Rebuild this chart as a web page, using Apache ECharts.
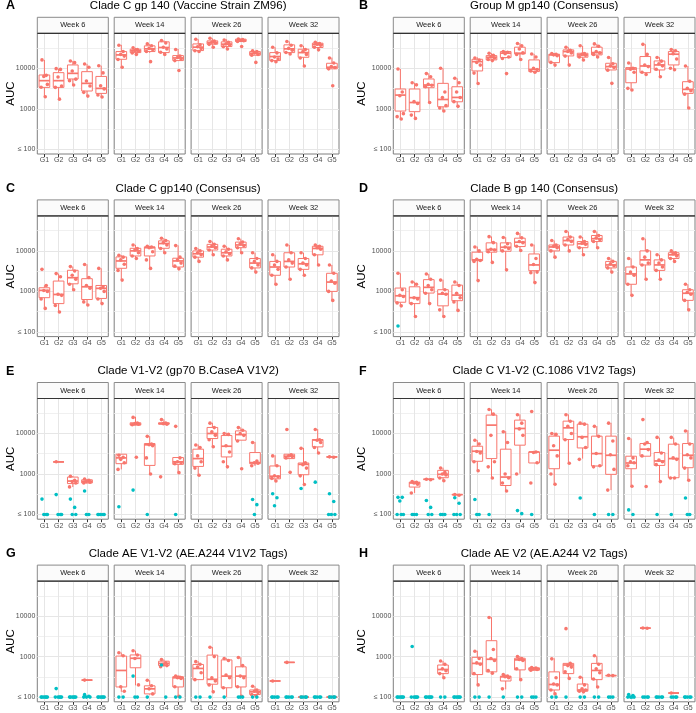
<!DOCTYPE html>
<html><head><meta charset="utf-8">
<script src="https://cdn.jsdelivr.net/npm/echarts@6/dist/echarts.min.js"></script>
<style>html,body{margin:0;padding:0;background:#fff}#c{width:696px;height:713px}</style>
</head><body><div id="c"></div><script>
const groups = ['G1','G2','G3','G4','G5'];
const weeks = ['Week 6','Week 14','Week 26','Week 32'];
const panelLetters = ['A','B','C','D','E','F','G','H'];
const panelTitles = ['Clade C gp 140 (Vaccine Strain ZM96)','Group M gp140 (Consensus)','Clade C gp140 (Consensus)','Clade B gp 140 (Consensus)','Clade V1-V2 (gp70 B.CaseA V1V2)','Clade C V1-V2 (C.1086 V1V2 Tags)','Clade AE V1-V2 (AE.A244 V1V2 Tags)','Clade AE V2 (AE.A244 V2 Tags)'];
const yTickValues = [100, 1000, 10000];
const yTickLabels = ['≤ 100', '1000', '10000'];

// box stats per week, per group: [lower whisker, Q1, median, Q3, upper whisker]; null = no box
const boxA = [
 [[1980,3380,4950,6840,16100],[1730,3380,4950,7800,9800],[3870,5450,7500,12100,15200],[2060,2750,4250,8260,12800],[1950,2400,3190,6300,11600]],
 [[10600,16700,21400,25900,37900],[22000,24400,27000,29600,32000],[24000,25900,30200,35800,40000],[22000,24400,32600,45000,48600],[15500,15500,18000,20600,30000]],
 [[25800,27400,33200,40000,52000],[33000,39400,43300,47600,55000],[30600,34400,39400,45000,52000],[45800,45800,48600,52400,53000],[21000,21000,23500,25900,27000]],
 [[14600,15500,19500,24400,33000],[22300,24400,30200,37900,46000],[11400,18700,24400,29600,35800],[28500,32600,38500,41700,44000],[9700,9700,10600,13300,18400]]
];
const redA = [
 [[16100,6700,6300,4000,3400,1980],[9800,9400,6100,3650,3380,1730],[15200,13800,8600,5400,4950,3870],[12800,10600,4850,3650,2550,2060],[11600,7700,3700,3100,2200,1950]],
 [[37000,26000,22000,20000,16500,10600],[32000,29000,27500,26000,24000,22000],[40000,36000,31000,29000,26000,14600],[48600,42000,33000,30000,25000,22000],[29000,20000,18500,17000,15500,8800]],
 [[52000,38000,34000,31000,27000,26000],[55000,47000,44000,42000,39000,33000],[50000,44000,40000,38000,34000,30000],[53000,51000,49000,48000,46000,34500],[27000,26000,24000,22000,21000,14000]],
 [[33000,24000,19000,17000,15500,14500],[46000,37000,31000,28000,24500,22500],[36000,29000,26000,22000,18000,11400],[44000,41000,39000,37000,33000,28500],[18000,13500,11000,10500,9700,3700]]
];
const boxB = [
 [[550,880,2180,3080,9600],[580,850,1430,3080,4400],[1430,3320,3870,5450,7500],[880,1120,1700,4250,10000],[1120,1490,1910,3500,5650]],
 [[4250,8600,14600,16700,18700],[15200,16100,18700,20600,23600],[17700,18400,23600,25900,25900],[16700,22700,23600,33200,41600],[7900,8300,9400,16100,22700]],
 [[12100,13800,21400,22300,23600],[12100,20200,25900,28500,33000],[16100,18800,21400,23500,35800],[18800,21400,24400,33200,40000],[9100,9100,11000,13300,18800]],
 [[2900,4400,9600,10400,13800],[7100,7800,11400,19500,39400],[6200,9100,12100,15200,18800],[9100,12100,22300,25900,29600],[1060,2400,3020,4670,11400]]
];
const redB = [
 [[9600,2600,2100,760,640,560],[4400,3900,1500,1350,700,580],[7400,6200,4000,3800,3500,1430],[10000,2600,1900,1200,1050,880],[5700,4400,2600,1900,1500,1150]],
 [[18000,16000,14000,12000,7600,4200],[23500,21000,19000,18000,16500,15500],[26000,25000,23000,19000,17500,7400],[41000,36000,30000,24000,22000,16500],[22500,19000,10000,9300,8600,8000]],
 [[23000,22000,21500,20500,14000,12000],[33000,28000,26000,24000,20000,12000],[36000,23000,22000,21000,19000,16000],[40000,35000,26000,24000,22000,19000],[18500,13000,11500,10500,9000,4250]],
 [[13500,10000,9500,8000,3200,2900],[39000,22000,12000,11000,8000,7000],[18500,15000,13000,11500,9500,6200],[29000,27000,23000,17000,10000,9200],[11400,4800,3200,2800,2300,1050]]
];
const boxC = [
 [[380,700,1060,1230,1400],[310,500,840,1800,2750],[1120,1540,2180,3320,4100],[460,630,1300,2060,4670],[510,670,1190,1400,3720]],
 [[1910,3720,5650,7100,7900],[6600,7500,10000,11600,14100],[3720,7500,12000,12600,13300],[9100,11600,15200,17700,20600],[3650,4000,5650,6600,13700]],
 [[5500,7000,8500,10000,11500],[8000,10500,12500,14500,17000],[6000,7500,9000,11000,13000],[9000,12000,14000,16500,20000],[3000,3800,5000,6500,9000]],
 [[1500,2500,4000,5500,8000],[2000,4000,5500,9000,14000],[2500,3500,4800,6500,9000],[4500,8000,11500,13000,14000],[600,1000,1700,2800,4500]]
];
const redC = [
 [[3500,1400,1050,1000,650,380],[2750,2300,850,800,450,310],[4100,3200,2500,2000,1500,1100],[4600,2200,1400,1200,550,460],[3700,1300,1200,1000,650,500]],
 [[7800,7000,6000,4700,3300,1900],[14000,11500,10500,9000,7500,6500],[13000,12500,12000,9500,6000,3700],[20500,18000,16000,14000,11500,9000],[13500,7000,6000,5000,4200,3600]],
 [[11500,10000,9000,8000,7000,5500],[17000,14500,13000,12000,10500,8000],[13000,11000,9500,8500,7500,6000],[20000,16500,15000,13500,12000,9000],[9000,6500,5500,4500,3800,3000]],
 [[8000,5500,4500,3500,2500,1500],[14000,9000,6000,5000,4000,2000],[9000,6500,5000,4500,3500,2500],[14000,13000,12000,11000,8000,4500],[4500,2800,1800,1600,1000,600]]
];
const boxD = [
 [[440,540,780,1210,2800],[240,500,700,1300,1730],[510,910,1260,1950,2700],[240,440,860,1100,1950],[340,590,810,1430,1730]],
 [[1850,5750,6000,9300,12800],[5250,9300,10800,15800,22700],[3440,9800,12300,15800,21800],[10200,12800,16400,20600,27400],[1670,3250,4500,8400,14300]],
 [[7000,10000,12500,14000,18000],[10000,14000,18000,22000,30000],[8000,12000,15000,17000,22000],[12000,17000,20000,24000,30000],[3000,3800,4500,5500,6500]],
 [[800,1500,2700,4000,6500],[2000,4500,6000,10000,20000],[2000,3300,4500,6000,8000],[5500,6500,8000,9000,10000],[350,600,900,1100,1500]]
];
const redD = [
 [[2800,1100,800,750,520,440],[1700,1500,700,650,500,240],[2700,2000,1400,1100,900,500],[1900,1100,900,850,350,240],[1700,1400,900,700,550,340]],
 [[12500,10000,6200,5800,5500,1850],[22500,16000,11000,10500,9500,5200],[21500,15000,12500,11500,10000,3400],[27000,21000,17000,16000,13000,10200],[14000,6500,4600,3000,2900,1650]],
 [[18000,14000,13000,12000,10000,7000],[30000,22000,19000,17000,14000,10000],[22000,17000,15500,14500,12000,8000],[30000,24000,21000,19000,17000,12000],[6500,5500,4800,4300,3800,3000]],
 [[6500,4000,3000,2500,1500,800],[20000,10000,7000,5000,4500,2000],[8000,6000,5000,4000,3300,2000],[10000,9000,8500,7500,6500,5500],[1500,1100,950,850,600,350]]
];
const cyanD = [
 [[140],[],[],[],[]], [[],[],[],[],[]], [[],[],[],[],[]], [[],[],[],[],[]]
];
const boxE = [
 [null,[1990,1990,1990,1990,1990],[476,580,670,840,890],[600,600,660,720,750],null],
 [[1300,1800,2500,3080,3080],[16100,16100,17000,18400,25900],[1020,1630,5250,5650,8600],[17000,17000,17500,18400,22300],[1080,1730,2000,2550,2550]],
 [[930,1540,2400,4100,5350],[4670,7500,10000,14100,18400],[1490,2640,4850,8900,10400],[6840,6840,9400,11600,14100],[1580,1800,1910,3380,6200]],
 [[670,760,880,1580,2900],[2400,2400,2750,3080,3080],[550,960,1730,1870,4400],[3320,4670,6900,7100,12800],[2640,2640,2640,2640,2640]]
];
const redE = [
 [[],[2000],[880,700,650,600,480],[750,700,650,630,600],[]],
 [[2900,2600,2300,1900,1300],[25000,18000,17500,17000,16500,2600],[8500,5500,5300,5000,2500,1000],[22000,18000,17500,17000,850],[15000,2500,2000,1900,1800,1080]],
 [[5200,4500,2800,2000,1400,930],[18000,14000,11000,9000,7000,4700],[10000,9500,5000,3500,2000,1500],[14000,12000,10000,9000,6500,1350],[6000,2100,1900,1850,1600]],
 [[2800,1600,900,850,780,670],[12500,3000,2800,2700,2500,1100],[4300,1900,1700,1400,900,550],[12500,7000,6800,6000,4500,3300],[2650,2600]]
];
const cyanE = [
 [[240,100,100,100],[310,100,100,100],[240,150,100,100],[380,100,100],[100,100,100,100,100]],
 [[155],[400],[100],[],[100]],
 [[],[],[],[],[235,175,100]],
 [[325,260,165],[],[440],[630],[325,210,100,100,100]]
];
const boxF = [
 [null,[340,476,600,630,650],[740,740,740,740,740],[680,810,980,1230,1430],[310,310,310,310,310]],
 [[1230,2060,3650,4850,6840],[810,2400,16100,28500,39400],[380,520,840,4100,11400],[1020,5150,13300,21400,29600],[1870,1870,3500,3500,3500]],
 [[580,1350,3870,8600,10400],[1870,7100,13800,20200,29600],[2400,4400,8300,17000,18400],[1550,1580,3190,8600,15200],[400,980,2900,8600,18400]],
 [[520,1350,1870,2750,7500],[2750,2750,4100,5650,5800],[680,1630,2100,3380,7900],[810,810,2400,5450,7900],[720,1430,2900,5650,12100]]
];
const redF = [
 [[],[650,620,600,560,340],[740,720],[1400,1100,1000,950,800,680],[310,300]],
 [[6800,5500,3600,3300,2000,1200],[39000,30000,9000,2000,1500,800],[11000,6000,1000,800,600,380],[29000,18000,13000,9000,1000],[35000,3500,3400,1900,600]],
 [[10000,9500,5000,2800,1000,560],[29000,20000,15000,10000,7000,1850],[18000,17000,8000,4500,2300],[15000,8500,3200,1600,1500],[18000,6500,3000,1300,400]],
 [[7500,2500,2000,1900,1600,500],[22000,6000,5500,4000,2800,490],[8000,3300,2200,2000,1700,650],[8000,5500,2500,2300,800,800],[11500,5500,3000,2500,1400,700]]
];
const cyanF = [
 [[265,265,215,100,100,100],[100,100,100],[222,150,100,100],[100,100,100],[260,190,100,100,100]],
 [[235,100,100],[100],[],[125,105],[100]],
 [[],[],[255],[100],[100,100]],
 [[130,100],[],[100],[100],[255,100,100]]
];
const boxG = [
 [null,null,null,[263,263,263,263,263],null],
 [[135,178,455,1030,1260],[195,530,910,1100,1400],[115,120,160,190,260],[560,600,680,770,850],[104,178,300,320,350]],
 [[270,270,510,640,770],[135,208,275,1090,1720],[100,170,330,830,910],[105,178,330,560,960],[110,116,135,150,185]],
 [[250,250,250,250,250],[720,720,720,720,720],[100,100,100,100,100],null,[100,100,100,100,100]]
];
const redG = [
 [[],[],[],[263],[]],
 [[1250,1050,180,140],[1400,1100,900,200],[260,190,160,120],[850,700,650,600,560],[330,310,300,290,180,105]],
 [[750,650,550,400,270],[1700,1000,300,250,200,135],[900,800,350,300,170],[950,600,330,300,180,105],[185,150,140,130,115,110]],
 [[250],[720],[100,100],[],[100,100]]
];
const cyanG = [
 [[100,100,100,100,100,100],[162,100,100,100,100,100],[100,100,100,100,100,100],[115,105,100,100,100],[100,100,100,100,100,100]],
 [[100,100],[330,100,100],[100],[620,100],[100,100]],
 [[100,100],[100],[100],[100,100,100],[100,100]],
 [[100,100,100,100,100],[100,100,100,100,100],[100,100,100,100],[100,100,100,100,100],[100,100,100,100]]
];
const boxH = [
 [null,null,null,[300,380,480,620,780],null],
 [[200,360,680,960,1400],[390,420,860,2470,9400],[155,250,316,330,360],[270,470,830,910,1030],[460,460,500,530,540]],
 [[120,150,205,420,910],[290,380,620,680,680],[135,140,150,210,316],[178,270,455,680,1050],[340,340,340,340,340]],
 [null,[5050,5050,5050,5050,5050],null,[126,126,126,126,126],null]
];
const redH = [
 [[],[],[],[780,650,500,450,380,300],[]],
 [[1350,900,700,650,380,200],[9200,1500,900,800,450,390],[360,330,320,300,160],[1000,900,850,800,500,270],[540,520,500,480,460]],
 [[880,300,210,200,150,120],[4900,680,600,550,420,290],[310,200,160,150,140,135],[1050,650,500,400,280,178],[345,340]],
 [[],[5100,5000],[],[126],[]]
];
const cyanH = [
 [[100,100,100,100,100,100],[1780,100,100,100,100,100],[100,100,100,100,100,100],[100,100],[100,100,100,100,100,100]],
 [[100,100],[100],[100],[100,100],[100,100,100]],
 [[100,100],[100],[100,100],[100,100],[100,100,100]],
 [[116,110,100,100,100,100],[100,100,100,100],[100,100,100,100,100],[100,100,100,100],[100,100,100,100,100]]
];

const panels = [
  {box: boxA, red: redA, cyan: null}, {box: boxB, red: redB, cyan: null},
  {box: boxC, red: redC, cyan: null}, {box: boxD, red: redD, cyan: cyanD},
  {box: boxE, red: redE, cyan: cyanE}, {box: boxF, red: redF, cyan: cyanF},
  {box: boxG, red: redG, cyan: cyanG}, {box: boxH, red: redH, cyan: cyanH}
];

// ---- layout / style (not data) ----
const RED = '#F8766D', CYAN = '#00BFC4';
const COLX = [37.3, 393.3], FACET_STEP = 76.9, FACET_W = 71, PLOT_H = 120.7;
const ROW_STEP = 182.6, PLOT_TOP0 = 33.3, STRIP_H = 16;
const Y_MIN = 76.6, Y_MAX = 73100;
const FONT = '"Liberation Sans", Arial, Helvetica, sans-serif';
const JIT = [-0.17, 0.13, -0.04, 0.21, -0.23, 0.06, 0.17, -0.11];
const MINOR = [Math.sqrt(10)*100, Math.sqrt(10)*1000, Math.sqrt(10)*10000];

const chart = echarts.init(document.getElementById('c'), null, {renderer: 'canvas', width: 696, height: 713});
const grids = [], xAxes = [], yAxes = [], series = [], elements = [];

function yFmt(v) {
  for (let i = 0; i < yTickValues.length; i++) {
    if (Math.abs(Math.log10(v) - Math.log10(yTickValues[i])) < 0.01) return yTickLabels[i];
  }
  return '';
}

function renderBox(params, api) {
  const x = api.value(0);
  const pMin = api.coord([x, api.value(1)]);
  const pQ1 = api.coord([x, api.value(2)]);
  const pMed = api.coord([x, api.value(3)]);
  const pQ3 = api.coord([x, api.value(4)]);
  const pMax = api.coord([x, api.value(5)]);
  const hw = api.coord([x + 0.375, api.value(3)])[0] - pMed[0];
  return {type: 'group', children: [
    {type: 'line', shape: {x1: pMin[0], y1: pMin[1], x2: pQ1[0], y2: pQ1[1]}, style: {stroke: RED, lineWidth: 1}},
    {type: 'line', shape: {x1: pQ3[0], y1: pQ3[1], x2: pMax[0], y2: pMax[1]}, style: {stroke: RED, lineWidth: 1}},
    {type: 'rect', shape: {x: pQ3[0] - hw, y: pQ3[1], width: 2 * hw, height: pQ1[1] - pQ3[1]}, style: {fill: '#fff', stroke: RED, lineWidth: 1}},
    {type: 'line', shape: {x1: pMed[0] - hw, y1: pMed[1], x2: pMed[0] + hw, y2: pMed[1]}, style: {stroke: RED, lineWidth: 1.7}}
  ]};
}

function pts(list) {
  const out = [];
  list.forEach((vals, g) => vals.forEach((v, i) => out.push([g + JIT[i % JIT.length], v])));
  return out;
}

panels.forEach((p, pi) => {
  const col = pi % 2, row = Math.floor(pi / 2);
  const top = PLOT_TOP0 + row * ROW_STEP;
  const x0 = COLX[col];
  const right = x0 + 3 * FACET_STEP + FACET_W;
  const titleY = 6 + row * ROW_STEP;
  elements.push({type: 'text', x: (x0 + right) / 2, y: titleY, z: 10,
    style: {text: panelTitles[pi], font: '11.5px ' + FONT, fill: '#000', textAlign: 'center', textVerticalAlign: 'middle'}});
  elements.push({type: 'text', x: col ? 359 : 6, y: titleY, z: 10,
    style: {text: panelLetters[pi], font: 'bold 12.5px ' + FONT, fill: '#000', textAlign: 'left', textVerticalAlign: 'middle'}});
  elements.push({type: 'text', x: col ? 362 : 10.5, y: top + PLOT_H / 2, rotation: Math.PI / 2, z: 10,
    style: {text: 'AUC', font: '11.5px ' + FONT, fill: '#000', textAlign: 'center', textVerticalAlign: 'middle'}});

  weeks.forEach((w, wi) => {
    const gi = grids.length;
    const left = x0 + wi * FACET_STEP;
    grids.push({left: left, top: top, width: FACET_W, height: PLOT_H, show: true,
      borderColor: '#7f7f7f', borderWidth: 1, backgroundColor: '#fff', containLabel: false});
    elements.push({type: 'rect', shape: {x: left, y: top - STRIP_H, width: FACET_W, height: STRIP_H}, z: 5,
      style: {fill: '#fbfbfb', stroke: '#8a8a8a', lineWidth: 1}});
    elements.push({type: 'line', shape: {x1: left, y1: top, x2: left + FACET_W, y2: top}, z: 6,
      style: {stroke: '#333', lineWidth: 1.2}});
    elements.push({type: 'text', x: left + FACET_W / 2, y: top - STRIP_H / 2, z: 7,
      style: {text: w, font: '7.5px ' + FONT, fill: '#1a1a1a', textAlign: 'center', textVerticalAlign: 'middle'}});

    xAxes.push({type: 'category', gridIndex: gi, data: groups, boundaryGap: true,
      axisLine: {show: false}, splitLine: {show: false},
      axisTick: {show: true, alignWithLabel: true, length: 3, lineStyle: {color: '#333', width: 1}},
      axisLabel: {fontSize: 7, color: '#4d4d4d', margin: 3, fontFamily: FONT}});
    xAxes.push({type: 'value', gridIndex: gi, min: -0.5, max: 4.5, show: false});
    yAxes.push({type: 'log', logBase: 10, gridIndex: gi, min: Y_MIN, max: Y_MAX,
      axisLine: {show: false}, splitLine: {show: false}, minorSplitLine: {show: false},
      axisTick: {show: wi === 0, length: 3, customValues: yTickValues, lineStyle: {color: '#333'}},
      axisLabel: {show: wi === 0, customValues: yTickValues, formatter: yFmt, fontSize: 7, color: '#4d4d4d', margin: 2, fontFamily: FONT}});
    const xv = 2 * gi + 1;

    const gridLines = [];
    yTickValues.forEach(v => gridLines.push({yAxis: v, lineStyle: {color: '#e6e6e6', width: 1, type: 'solid'}}));
    MINOR.forEach(v => gridLines.push({yAxis: v, lineStyle: {color: '#f0f0f0', width: 1, type: 'solid'}}));
    groups.forEach((g, k) => gridLines.push({xAxis: k, lineStyle: {color: '#e6e6e6', width: 1, type: 'solid'}}));
    series.push({type: 'scatter', xAxisIndex: xv, yAxisIndex: gi, data: [[0, 1000]], symbolSize: 0, silent: true, z: 1,
      itemStyle: {opacity: 0},
      markLine: {silent: true, z: 1, symbol: ['none', 'none'], label: {show: false}, animation: false, data: gridLines}});

    const boxData = [];
    p.box[wi].forEach((b, g) => { if (b) boxData.push([g, b[0], b[1], b[2], b[3], b[4]]); });
    series.push({type: 'custom', xAxisIndex: xv, yAxisIndex: gi, z: 2, renderItem: renderBox,
      encode: {x: 0, y: [1, 2, 3, 4, 5]}, data: boxData, silent: true});
    series.push({type: 'scatter', xAxisIndex: xv, yAxisIndex: gi, z: 3, symbolSize: 3.6,
      itemStyle: {color: RED, opacity: 1}, data: pts(p.red[wi]), silent: true});
    if (p.cyan) {
      series.push({type: 'scatter', xAxisIndex: xv, yAxisIndex: gi, z: 4, symbolSize: 3.6,
        itemStyle: {color: CYAN, opacity: 1}, data: pts(p.cyan[wi]), silent: true});
    }
  });
});

chart.setOption({
  animation: false,
  backgroundColor: '#fff',
  grid: grids, xAxis: xAxes, yAxis: yAxes, series: series,
  graphic: {elements: elements}
});
</script></body></html>
